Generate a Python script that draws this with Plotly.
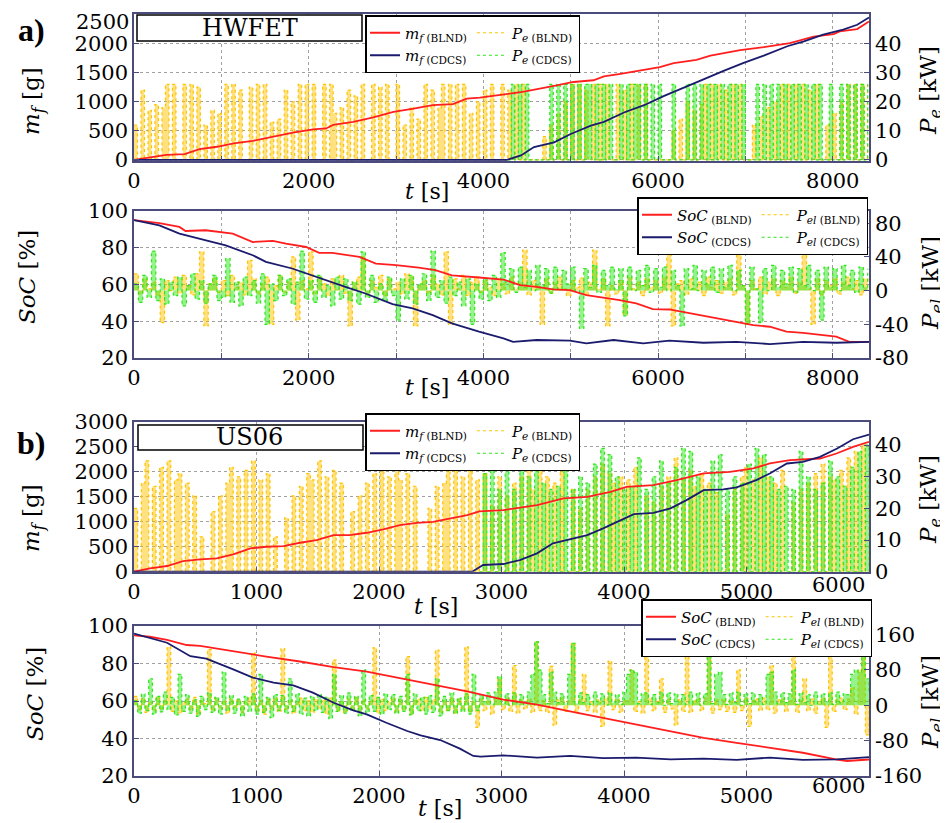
import numpy as np
import plotly.graph_objects as go

# page is drawn with an 8 px body margin: figure is 940x815 inside a 948x823 window
OFF = 8
FW, FH = 940, 815

# ---------------- a) HWFET ----------------
hw_t_end = 8415
hw_pe_step = 40
hw_pe_blnd = [
    12, 0, 24, 0, 17, 0, 19, 0, 18, 26, 0, 26, 0, 0, 26, 0, 26, 0, 25,
    0, 12, 0, 17, 0, 16, 0, 26, 0, 26, 0, 24, 0, 0, 25, 0, 26, 0, 26,
    0, 13, 0, 14, 0, 24, 0, 20, 0, 26, 0, 26, 0, 26, 0, 0, 26, 0, 26,
    16, 0, 18, 0, 24, 0, 22, 0, 26, 0, 0, 26, 0, 25, 0, 26, 0, 0, 26,
    0, 12, 0, 18, 0, 14, 0, 26, 0, 24, 0, 18, 26, 0, 26, 0, 26, 0, 26,
    0, 16, 0, 20, 0, 24, 0, 26, 0, 0, 26, 0, 24, 0, 26, 0, 26, 0, 0,
    0, 0, 0, 8, 0, 12, 0, 16, 0, 20, 0, 26, 0, 26, 0, 24, 0, 26, 0,
    26, 0, 26, 0, 0, 26, 0, 24, 0, 26, 0, 26, 0, 26, 0, 0, 0, 0, 0,
    0, 0, 10, 0, 14, 0, 20, 0, 17, 0, 19, 26, 0, 26, 0, 26, 0, 24, 0,
    26, 0, 26, 0, 0, 0, 12, 0, 15, 0, 18, 0, 20, 0, 26, 0, 26, 0, 26,
    0, 26, 0, 24, 0, 26, 0, 0, 12, 0, 16, 0, 20, 0, 26, 0, 26, 0, 26,
    0, 26]
hw_pe_cdcs_start = 4280
hw_pe_cdcs = [
    0, 26, 0, 26, 0, 26, 0, 0, 0, 0, 0, 0, 26, 0, 26, 0, 26, 0, 26,
    0, 26, 0, 26, 26, 0, 26, 0, 26, 0, 26, 0, 0,
    26, 0, 26, 0, 26, 26, 0, 26, 0, 26, 0, 26,
    0, 0, 0, 26, 0, 0, 0,
    26, 0, 26, 0, 26, 0, 26, 0, 26, 0, 26, 0, 26, 0, 26, 0, 26, 0, 0, 0,
    26, 0, 26, 0, 26, 0, 26, 0, 26, 0, 26, 0, 26, 0, 26, 0, 26, 0, 26, 0, 0,
    26, 0, 0, 26, 0, 26, 0, 26, 0, 26, 0, 26]
hw_pel_step = 50
hw_pel_blnd = [
    20, -4, 14, 2, 10, -6, -38, 12, 0, 16,
    -3, 18, 6, -5, 20, 46, -42, 8, 15, -2,
    12, -6, 18, 4, 10, -5, 36, 14, -4, 8,
    16, -40, 6, 18, -2, 10, 40, -35, 12, 2,
    46, -4, 16, 8, -6, 14, 2, 18, -3, -42,
    10, 16, 40, -5, 12, 4, 18, -6, 14, 2,
    10, -4, 20, 16, -42, 6, 12, -3, 18, 8,
    -5, 46, -40, 14, 2, 18, -6, 10, 16, -2,
    12, 4, -6, 14, 8, -4, 16, 2, 10, 48,
    -5, 12, 6, -40, 14, -3, 10, 16, 2, -6,
    12, 4, 15, -5, 10, 48, 2, 14, -42, 6,
    -4, 12, -28, 16, 2, 10, -6, 14, 4, 12,
    -3, 16, 48, -42, 8, 12, -5, 14, 2, 10,
    -6, 16, 4, 12, -3, 10, 14, -5, 48, 6,
    -40, 12, 2, 16, -4, 10, 14, -6, 12, 4,
    16, -3, 10, 48, 2, -40, 14, -5, 12, 6,
    14, -4, 10, 16, 2, 12, -5, 14, 8]
hw_pel_cdcs = [
    8, -14, 18, -8, 47, -12, 14, -16, 10, -6,
    16, -18, 6, 20, -10, 12, -15, 8, 18, -12,
    -8, 38, -14, 10, -18, 16, -6, 12, -15, 20,
    -40, 8, -12, 18, -6, 14, -16, 10, 47, -10,
    12, -14, 18, -8, 6, -18, 16, -10, 14, -12,
    10, -16, 46, -8, 18, -14, 8, -12, 16, -6,
    -35, 14, -10, 18, -16, 8, 20, -12, 47, -8,
    12, -15, 16, -6, 10, -18, 14, -40, 8, -10,
    14, -12, 18, -8, 45, 10, 26, -2, 28, 4,
    24, 0, 30, 6, 26, -3, 28, 2, 24, 8,
    28, 0, -45, 26, 4, 30, -2, 24, 6, 28,
    2, 26, -30, 28, 0, 24, 6, 30, -2, 26,
    4, 28, 0, 24, 6, -42, 26, 2, 30, 0,
    24, 8, 28, -2, 26, 4, 30, 0, 24, 6,
    -40, 28, 2, -38, 26, 0, 30, 4, 24, 8,
    28, -2, 26, 6, 30, 0, 24, -35, 28, 4,
    26, 0, 30, 6, 24, -2, 28, 4, 26]
hw_mf_blnd_t = [0, 180, 370, 580, 750, 950, 1140, 1360, 1590, 1820, 2050, 2200, 2280, 2510,
                2740, 2970, 3200, 3420, 3650, 3810, 3960, 4150, 4450, 4840, 5030, 5260, 5380,
                5570, 5800, 6020, 6180, 6440, 6600, 6940, 7210, 7510, 7780, 8010, 8080, 8280, 8415]
hw_mf_blnd = [0, 40, 85, 100, 185, 225, 285, 325, 400, 468, 525, 540, 600, 655,
              730, 825, 880, 940, 960, 1055, 1070, 1110, 1170, 1280, 1340, 1370, 1435,
              1480, 1540, 1595, 1665, 1720, 1795, 1890, 1940, 2010, 2120, 2165, 2210, 2250, 2380]
hw_mf_cdcs_t = [0, 4270, 4430, 4580, 4810, 5000, 5230, 5380, 5610, 5840, 6070, 6260, 6520,
                6750, 6980, 7210, 7480, 7670, 7890, 8120, 8280, 8415]
hw_mf_cdcs = [0, 0, 75, 220, 300, 445, 590, 655, 815, 940, 1100, 1215, 1385,
              1530, 1670, 1795, 1955, 2040, 2155, 2240, 2325, 2450]
hw_soc_blnd_t = [0, 290, 520, 590, 820, 1130, 1360, 1590, 1740, 1970, 2120, 2270, 2580, 2770,
                 3000, 3260, 3450, 3640, 3950, 4230, 4420, 4610, 4800, 4990, 5180, 5370, 5560,
                 5750, 5940, 6130, 6330, 6520, 6710, 6900, 7090, 7280, 7470, 7660, 7850, 8040,
                 8190, 8415]
hw_soc_blnd = [95, 93.4, 91.3, 89.1, 89.5, 87.7, 83.1, 83.7, 82.2, 80.4, 77.2, 77.2, 75, 71.4,
               70.5, 69.2, 67.8, 65, 63.8, 62.7, 59.6, 58.7, 57.3, 56.9, 54.2, 52.9, 51.5,
               49.7, 46.6, 46.4, 44.6, 42.8, 41, 39.7, 37.9, 37, 34.3, 33.7, 32.5, 31.6,
               28.8, 28.8]
hw_soc_cdcs_t = [0, 290, 520, 750, 1050, 1360, 1510, 1810, 1970, 2200, 2420, 2650, 2960, 3190,
                 3420, 3640, 3950, 4230, 4340, 4610, 4990, 5180, 5490, 5830, 6130, 6520, 6900,
                 7280, 7660, 8040, 8415]
hw_soc_cdcs = [95, 92.2, 87.7, 85, 81.3, 75.9, 72.3, 68.7, 66, 62, 58.7, 55.1, 49.3, 47,
               43.3, 38.8, 34.3, 30.7, 28.8, 29.8, 29.4, 28, 29.8, 28, 29.4, 28.3, 28.8,
               27.6, 28.8, 28.3, 28.8]

# ---------------- b) US06 ----------------
us_t_end = 6000
us_step = 30
us_pe_blnd = [
    20, 0, 28, 35, 0, 27, 0, 33, 0, 35, 0, 29, 31, 0, 28, 0, 24, 0, 11, 0,
    0, 19, 0, 24, 0, 28, 33, 0, 30, 0, 32, 0, 35, 0, 29, 0, 31, 0, 11, 0,
    0, 17, 0, 24, 0, 27, 0, 31, 29, 0, 35, 0, 30, 0, 32, 0, 28, 0, 0, 19,
    0, 24, 0, 28, 0, 31, 0, 36, 0, 30, 0, 33, 29, 0, 31, 0, 27, 0, 0, 0,
    20, 0, 27, 0, 28, 32, 0, 35, 0, 30, 0, 32, 0, 29, 0, 31, 0, 21, 0, 30,
    0, 24, 0, 28, 0, 30, 0, 35, 26, 0, 33, 0, 30, 0, 28, 0, 32, 0, 0, 26,
    0, 20, 0, 26, 0, 30, 0, 34, 0, 31, 28, 0, 30, 0, 29, 0, 33, 0, 0, 24,
    0, 22, 0, 27, 0, 30, 0, 36, 0, 29, 0, 32, 27, 0, 31, 0, 28, 0, 25, 0,
    0, 18, 0, 26, 0, 30, 33, 0, 29, 0, 36, 0, 30, 0, 28, 0, 32, 0, 0, 22,
    0, 26, 0, 28, 0, 31, 0, 34, 0, 30, 29, 0, 32, 0, 36, 0, 38, 0, 40, 0,
    36]
us_pe_cdcs_start = 2820
us_pe_cdcs = [
    0, 31, 0, 32, 0, 26, 0, 35, 0, 26, 0, 38, 0, 30, 0, 39, 0, 28, 0, 26,
    0, 27, 0, 37, 0, 26, 0, 30, 0, 28, 0, 34, 0, 39, 0, 37, 0, 30, 0, 26,
    0, 27, 0, 36, 0, 26, 0, 30, 0, 35, 0, 28, 0, 33, 0, 39, 0, 38, 0, 30,
    0, 26, 0, 35, 0, 37, 0, 26, 0, 30, 0, 28, 0, 34, 0, 39, 0, 37, 0, 30,
    0, 26, 0, 27, 0, 26, 0, 38, 0, 30, 0, 26, 0, 28, 0, 35, 0, 30, 0, 27,
    0, 33, 0, 38, 0, 40, 36]
us_pel_blnd = [
    20, -10, 15, -16, 8, -12, 18, -8, 10, 132,
    -14, 12, -18, 6, 14, -10, 18, -20, 10, 4,
    126, -12, 16, -8, 10, -18, 14, -6, 12, -16,
    8, 18, 118, -12, 10, -20, 14, -8, 16, -14,
    128, -10, 12, -18, 6, 16, -12, 10, -16, 14,
    -8, 12, -20, 16, 102, -12, 8, -16, 14, -10,
    18, -14, 12, -8, 10, 130, -18, 14, -12, 8,
    16, -16, 12, -10, 110, -20, 10, 14, -12, 18,
    -8, 12, 125, -16, 10, -12, 16, -18, 14, -10,
    132, -14, 8, -50, 16, -12, 10, -20, 14, 60,
    -10, 16, -14, 90, -18, 12, -8, 14, -16, 144,
    -12, 10, -16, 88, -45, 12, 16, -14, 10, 140,
    -18, 14, 70, -12, 8, -16, 12, -48, 16, 100,
    -10, 14, -16, 10, 12, 80, -14, 8, -18, 120,
    16, -12, 10, 60, -16, 14, -8, -45, 12, -14,
    110, -16, 10, 14, -12, 16, 140, -18, 12, -10,
    14, -14, 10, -16, 80, -12, 16, -48, 10, 14,
    -12, 16, -10, 90, -18, 12, 14, -14, 10, 130,
    -16, 12, 60, -12, 14, -18, 10, 16, -50, 120,
    -14, 12, 16, -10, 14, 40, -20, 80, 150, -67,
    20]
us_pel_cdcs = [
    10, -18, 25, -12, 60, -20, 20, -15, 30, -10,
    18, -22, 70, -14, 24, -18, 12, -25, 20, -10,
    28, -16, 18, -20, 75, -12, 22, -18, 14, -24,
    20, -14, 26, -20, 70, -16, 18, -28, 24, -12,
    22, -18, 60, -14, 26, -20, 16, -24, 20, -12,
    24, -16, 18, -30, 70, -14, 22, -18, 28, -12,
    20, -24, 80, -16, 22, -14, 18, -20, 26, -10,
    24, -18, 20, -14, 70, -22, 26, -12, 18, -20,
    22, -16, 60, -24, 20, -12, 28, -18, 16, -14,
    26, -20, 70, -12, 24, 8, 28, 2, 30, 65,
    4, 26, 0, 28, 6, 24, 2, 30, 70, 144,
    80, 24, 4, 75, 30, 6, 26, 2, 70, 140,
    4, 28, 6, 24, 2, 30, 8, 26, 0, 28,
    6, 24, 2, 30, 70, 80, 75, 4, 26, 28,
    2, 24, 6, 30, 0, 28, 4, 26, 8, 24,
    2, 30, 6, 28, 0, 26, 144, 4, 70, 75,
    24, 2, 28, 6, 30, 0, 26, 4, 28, 8,
    24, 2, 70, 75, 30, 4, 28, 6, 26, 80,
    2, 28, 6, 24, 0, 30, 4, 26, 8, 28,
    2, 30, 6, 26, 24, 70, 80, 75, 150, 60,
    30]
us_mf_blnd_t = [0, 130, 270, 400, 540, 675, 810, 950, 1080, 1220, 1355, 1490, 1630, 1760,
                1900, 2035, 2170, 2310, 2440, 2580, 2720, 2820, 3015, 3290, 3505, 3700, 3890,
                4020, 4240, 4430, 4650, 4865, 5055, 5190, 5355, 5600, 5735, 5870, 6000]
us_mf_blnd = [0, 68, 114, 214, 248, 268, 348, 468, 500, 514, 580, 634, 734, 734,
              780, 848, 934, 980, 1000, 1068, 1134, 1210, 1234, 1334, 1468, 1500, 1600,
              1700, 1734, 1834, 1968, 2000, 2068, 2168, 2234, 2268, 2368, 2500, 2600]
us_mf_cdcs_t = [0, 2760, 2850, 3015, 3150, 3290, 3420, 3560, 3700, 3830, 3970, 4080, 4240,
                4380, 4510, 4650, 4810, 4920, 5080, 5190, 5330, 5460, 5600, 5740, 5870, 6000]
us_mf_cdcs = [0, 0, 134, 154, 234, 368, 568, 648, 734, 868, 1034, 1154, 1180,
              1268, 1434, 1634, 1648, 1688, 1834, 1968, 2168, 2200, 2300, 2468, 2654, 2748]
us_soc_blnd_t = [0, 130, 270, 430, 540, 810, 1080, 1355, 1630, 1900, 2170, 2440, 2720, 3015,
                 3290, 3560, 3830, 4100, 4380, 4650, 4920, 5190, 5460, 5740, 5820, 6000]
us_soc_blnd = [95, 94.3, 92.6, 89.9, 89.4, 86.4, 83.7, 81.1, 78.1, 75.7, 72.2, 68.6, 65.1, 60.8,
               58.1, 54.5, 51, 47.4, 43.9, 40.3, 37.7, 35, 32.4, 28.8, 28, 28.8]
us_soc_cdcs_t = [0, 130, 270, 460, 590, 810, 970, 1140, 1300, 1460, 1630, 1790, 1900, 2060,
                 2230, 2340, 2500, 2660, 2770, 2830, 3015, 3290, 3560, 3830, 4100, 4380, 4650,
                 4920, 5190, 5460, 5740, 6000]
us_soc_cdcs = [96, 93.7, 91.1, 83.9, 82.6, 76.9, 72.5, 69.8, 68.4, 64.5, 59.1, 55, 52.9, 48.4,
               44, 41.7, 39.2, 34.6, 30.7, 30.3, 31, 29.8, 30.7, 29.5, 29.8, 28.9, 29.3,
               28.6, 29.8, 28.6, 28.9, 30.1]

# tick labels
hw_x_ticks = [0, 2000, 4000, 6000, 8000]
us_x_ticks = [0, 1000, 2000, 3000, 4000, 5000]
us_x_last_label = "6000"
hw_mf_ticks = [0, 500, 1000, 1500, 2000]
hw_mf_top_label = "2500"
us_mf_ticks = [0, 500, 1000, 1500, 2000, 2500, 3000]
soc_ticks = [20, 40, 60, 80, 100]
hw_pe_ticks = [0, 10, 20, 30, 40]
us_pe_ticks = [0, 10, 20, 30, 40]
hw_pel_ticks = [-80, -40, 0, 40, 80]
us_pel_ticks = [-160, -80, 0, 80, 160]

# ---------------- styling ----------------
RED = "#ff1f1f"
NAVY = "#1b1b6e"
YEL = "#ffc400"
YEL_F = "rgba(255,196,0,0.5)"
GRN = "#2ee61a"
GRN_F = "rgba(46,230,26,0.5)"
AXC = "#4c4c7c"
GRID = "#a0a0a0"
FONT = "DejaVu Serif"


def px(x):
    return (x - OFF) / FW


def py(y):
    return 1 - (y - OFF) / FH


X0, X1 = px(134), px(869)
dom = {
    1: [py(161), py(14)],
    2: [py(358), py(210.6)],
    3: [py(571.7), py(421.7)],
    4: [py(776), py(625.7)],
}

fig = go.Figure()


def steps(start, step, vals):
    return start + step * np.arange(len(vals))


def add_p(xname, ybase, t, v, col, fcol, name, leg, rank):
    # filled comb (no legend entry) + dotted outline (legend entry)
    fig.add_trace(go.Scatter(x=t, y=v, mode="lines", xaxis=xname, yaxis=ybase,
                             line=dict(color=fcol, width=0, shape="hv"),
                             fill="tozeroy", fillcolor=fcol, showlegend=False,
                             legend=leg, hoverinfo="skip"))
    fig.add_trace(go.Scatter(x=t, y=v, mode="lines", xaxis=xname, yaxis=ybase,
                             line=dict(color=col, width=1.2, dash="dot", shape="hv"),
                             name=name, legend=leg, legendgroup=leg + "p", legendrank=rank,
                             hoverinfo="skip"))


def add_panel(xname, ybase, yover, pb, pc, mb, mc, names_m, names_p, leg):
    add_p(xname, ybase, pb[0], pb[1], YEL, YEL_F, names_p[0], leg, 3)
    add_p(xname, ybase, pc[0], pc[1], GRN, GRN_F, names_p[1], leg, 4)
    fig.add_trace(go.Scatter(x=mb[0], y=mb[1], mode="lines", xaxis=xname, yaxis=yover,
                             line=dict(color=RED, width=1.8), name=names_m[0],
                             legend=leg, legendgroup=leg + "m", legendrank=1,
                             hoverinfo="skip"))
    fig.add_trace(go.Scatter(x=mc[0], y=mc[1], mode="lines", xaxis=xname, yaxis=yover,
                             line=dict(color=NAVY, width=1.8), name=names_m[1],
                             legend=leg, legendgroup=leg + "m", legendrank=2,
                             hoverinfo="skip"))


MF_B = "<i>m</i><sub><i>f</i> (BLND)</sub>"
MF_C = "<i>m</i><sub><i>f</i> (CDCS)</sub>"
PE_B = "<i>P</i><sub><i>e</i> (BLND)</sub>"
PE_C = "<i>P</i><sub><i>e</i> (CDCS)</sub>"
SOC_B = "<i>SoC</i><sub> (BLND)</sub>"
SOC_C = "<i>SoC</i><sub> (CDCS)</sub>"
PEL_B = "<i>P</i><sub><i>el</i> (BLND)</sub>"
PEL_C = "<i>P</i><sub><i>el</i> (CDCS)</sub>"

add_panel("x", "y", "y2",
          (steps(0, hw_pe_step, hw_pe_blnd), hw_pe_blnd),
          (steps(hw_pe_cdcs_start, hw_pe_step, hw_pe_cdcs), hw_pe_cdcs),
          (hw_mf_blnd_t, hw_mf_blnd), (hw_mf_cdcs_t, hw_mf_cdcs),
          (MF_B, MF_C), (PE_B, PE_C), "legend")
add_panel("x2", "y3", "y4",
          (steps(0, hw_pel_step, hw_pel_blnd), hw_pel_blnd),
          (steps(0, hw_pel_step, hw_pel_cdcs), hw_pel_cdcs),
          (hw_soc_blnd_t, hw_soc_blnd), (hw_soc_cdcs_t, hw_soc_cdcs),
          (SOC_B, SOC_C), (PEL_B, PEL_C), "legend2")
add_panel("x3", "y5", "y6",
          (steps(0, us_step, us_pe_blnd), us_pe_blnd),
          (steps(us_pe_cdcs_start, us_step, us_pe_cdcs), us_pe_cdcs),
          (us_mf_blnd_t, us_mf_blnd), (us_mf_cdcs_t, us_mf_cdcs),
          (MF_B, MF_C), (PE_B, PE_C), "legend3")
add_panel("x4", "y7", "y8",
          (steps(0, us_step, us_pel_blnd), us_pel_blnd),
          (steps(0, us_step, us_pel_cdcs), us_pel_cdcs),
          (us_soc_blnd_t, us_soc_blnd), (us_soc_cdcs_t, us_soc_cdcs),
          (SOC_B, SOC_C), (PEL_B, PEL_C), "legend4")

tickfont = dict(family=FONT, size=21, color="black")


def xaxis(anchor, rng, ticks, dtick_grid):
    return dict(domain=[X0, X1], anchor=anchor, range=rng, tickmode="array", tickvals=ticks,
                ticktext=[str(t) for t in ticks], showline=True, linecolor=AXC, linewidth=1.5,
                mirror=True, ticks="inside", ticklen=5, tickcolor=AXC, showgrid=True,
                gridcolor=GRID, griddash="dot", gridwidth=1, zeroline=False,
                tickfont=tickfont, automargin=False, ticklabeloverflow="allow",
                minor=dict(dtick=dtick_grid, tick0=0, showgrid=True, gridcolor=GRID,
                           griddash="dot", gridwidth=1, ticks="inside", ticklen=5,
                           tickcolor=AXC))


def ybase(xname, d, rng, ticks):
    return dict(domain=d, anchor=xname, side="right", range=rng, tickmode="array",
                tickvals=ticks, ticktext=[str(t) for t in ticks], showline=True,
                linecolor=AXC, linewidth=1.5, mirror=True, ticks="inside", ticklen=5,
                tickcolor=AXC, showgrid=False, zeroline=False, tickfont=tickfont,
                automargin=False, ticklabeloverflow="allow")


def yover(xname, base, rng, ticks):
    return dict(overlaying=base, anchor=xname, side="left", range=rng, tickmode="array",
                tickvals=ticks, ticktext=[str(t) for t in ticks], showline=True,
                linecolor=AXC, linewidth=1.5, ticks="inside", ticklen=5, tickcolor=AXC,
                showgrid=True, gridcolor=GRID, griddash="dot", gridwidth=1, zeroline=False,
                tickfont=tickfont, automargin=False, ticklabeloverflow="allow")


legfont = dict(family=FONT, size=15, color="black")


def legend(x, y):
    return dict(x=px(x), y=py(y), xanchor="left", yanchor="top", orientation="h",
                traceorder="grouped", bgcolor="white", bordercolor="black", borderwidth=1.5,
                font=legfont, itemwidth=30, tracegroupgap=0)


annotations = []


def text(x, y, s, size=22, angle=0, family=FONT):
    annotations.append(dict(x=px(x), y=py(y), xref="paper", yref="paper", text=s,
                            showarrow=False, textangle=angle, xanchor="center",
                            yanchor="middle",
                            font=dict(family=family, size=size, color="black")))


# axis titles
text(33, 101, "<i>m</i><sub><i>f</i></sub> [g]", 23, -90)
text(930, 91, "<i>P</i><sub><i>e</i></sub> [kW]", 23, -90)
text(427, 191, "<i>t</i> [s]", 22)
text(27, 277, "<i>SoC</i> [%]", 23, -90)
text(932, 283, "<i>P</i><sub><i>el</i></sub> [kW]", 23, -90)
text(427, 387, "<i>t</i> [s]", 22)
text(33, 518, "<i>m</i><sub><i>f</i></sub> [g]", 23, -90)
text(930, 500, "<i>P</i><sub><i>e</i></sub> [kW]", 23, -90)
text(436, 606, "<i>t</i> [s]", 22)
text(35, 694, "<i>SoC</i> [%]", 23, -90)
text(932, 702, "<i>P</i><sub><i>el</i></sub> [kW]", 23, -90)
text(440, 808, "<i>t</i> [s]", 22)
# corner tick labels drawn slightly inside, as in the original
text(838, 585, us_x_last_label, 21)
text(838, 786, us_x_last_label, 21)
text(102, 22, hw_mf_top_label, 21)
# panel labels
text(31, 30, "<b>a)</b>", 32, family="Liberation Serif")
text(31, 443, "<b>b)</b>", 32, family="Liberation Serif")
# cycle boxes
text(250, 28.5, "HWFET", 24)
text(250, 437.5, "US06", 24)

shapes = [
    dict(type="rect", xref="paper", yref="paper", x0=px(137), x1=px(362), y0=py(41), y1=py(15),
         line=dict(color="black", width=1.5), fillcolor="white", layer="above"),
    dict(type="rect", xref="paper", yref="paper", x0=px(138), x1=px(363), y0=py(450),
         y1=py(425), line=dict(color="black", width=1.5), fillcolor="white", layer="above"),
]

fig.update_layout(
    template="none",
    width=FW, height=FH, margin=dict(l=0, r=0, t=0, b=0, pad=0), autosize=False,
    paper_bgcolor="white", plot_bgcolor="white", showlegend=True,
    xaxis=xaxis("y", [0, hw_t_end], hw_x_ticks, 1000),
    xaxis2=xaxis("y3", [0, hw_t_end], hw_x_ticks, 1000),
    xaxis3=xaxis("y5", [0, us_t_end], us_x_ticks, 1000),
    xaxis4=xaxis("y7", [0, us_t_end], us_x_ticks, 1000),
    yaxis=ybase("x", dom[1], [-0.4, 50.2], hw_pe_ticks),
    yaxis2=yover("x", "y", [-20, 2510], hw_mf_ticks),
    yaxis3=ybase("x2", dom[2], [-80, 95], hw_pel_ticks),
    yaxis4=yover("x2", "y3", [20, 100.2], soc_ticks),
    yaxis5=ybase("x3", dom[3], [0, 47.4], us_pe_ticks),
    yaxis6=yover("x3", "y5", [0, 3005], us_mf_ticks),
    yaxis7=ybase("x4", dom[4], [-160, 180], us_pel_ticks),
    yaxis8=yover("x4", "y7", [20, 100.2], soc_ticks),
    legend=legend(365, 15),
    legend2=legend(637, 197),
    legend3=legend(365, 413),
    legend4=legend(641, 599),
    annotations=annotations,
    shapes=shapes,
)

fig.write_html("out.html")
